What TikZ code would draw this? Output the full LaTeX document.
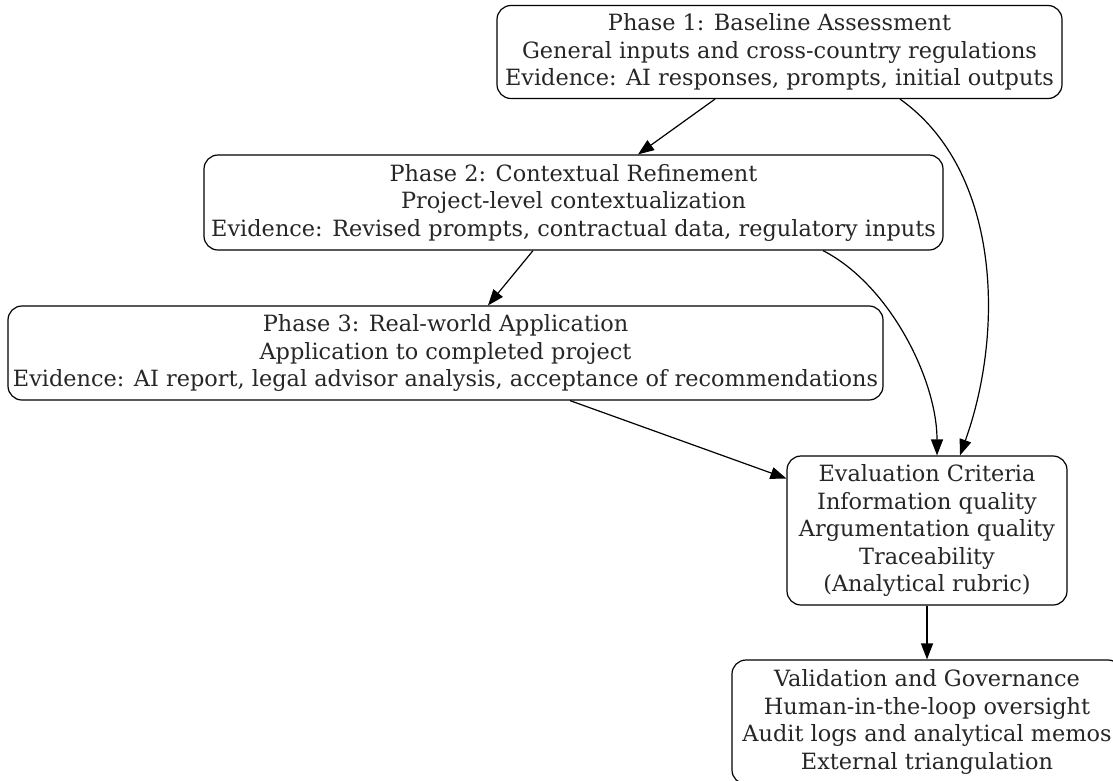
\documentclass[tikz,border=0pt]{standalone}
\usepackage{fontspec}
\setmainfont{DejaVu Serif}
\usetikzlibrary{arrows.meta}
\tikzset{
  box/.style={draw, line width=1.2pt, rounded corners=14pt, align=center,
    inner sep=0pt, font=\fontsize{22.4}{27.5}\selectfont, text=black!85},
  conn/.style={draw, line width=1.2pt, -{Triangle[length=16pt,width=12pt]}}
}
\begin{document}
\begin{tikzpicture}[x=1pt,y=-1pt]
\useasboundingbox (0,0) rectangle (1113,780);
\clip (0,0) rectangle (1113,780);
\node[box, minimum width=565pt, minimum height=93pt] (p1) at (779.5,52)
  {Phase 1: Baseline Assessment\\General inputs and cross-country regulations\\Evidence: AI responses, prompts, initial outputs};
\node[box, minimum width=739pt, minimum height=95pt] (p2) at (573.5,202.5)
  {Phase 2: Contextual Refinement\\Project-level contextualization\\Evidence: Revised prompts, contractual data, regulatory inputs};
\node[box, minimum width=875pt, minimum height=94pt] (p3) at (445.5,353)
  {Phase 3: Real-world Application\\Application to completed project\\Evidence: AI report, legal advisor analysis, acceptance of recommendations};
\node[box, minimum width=280pt, minimum height=149pt] (ev) at (927,530.5)
  {Evaluation Criteria\\Information quality\\Argumentation quality\\Traceability\\(Analytical rubric)};
\node[box, minimum width=390pt, minimum height=124pt] (va) at (927,722)
  {Validation and Governance\\Human-in-the-loop oversight\\Audit logs and analytical memos\\External triangulation};
\draw[conn] ([xshift=-64.5pt]p1.south) -- ([xshift=64.5pt]p2.north);
\draw[conn] ([xshift=-40.5pt]p2.south) -- ([xshift=42.5pt]p3.north);
\draw[conn] ([xshift=124.5pt]p3.south) -- ([yshift=52pt]ev.west);
\draw[conn] ([xshift=120.5pt]p1.south) .. controls (1000,170) and (1005,330) .. ([xshift=33pt]ev.north);
\draw[conn] ([xshift=249.5pt]p2.south) .. controls (890,285) and (937,380) .. ([xshift=10pt]ev.north);
\draw[conn] (ev.south) -- (va.north);
\end{tikzpicture}
\end{document}
